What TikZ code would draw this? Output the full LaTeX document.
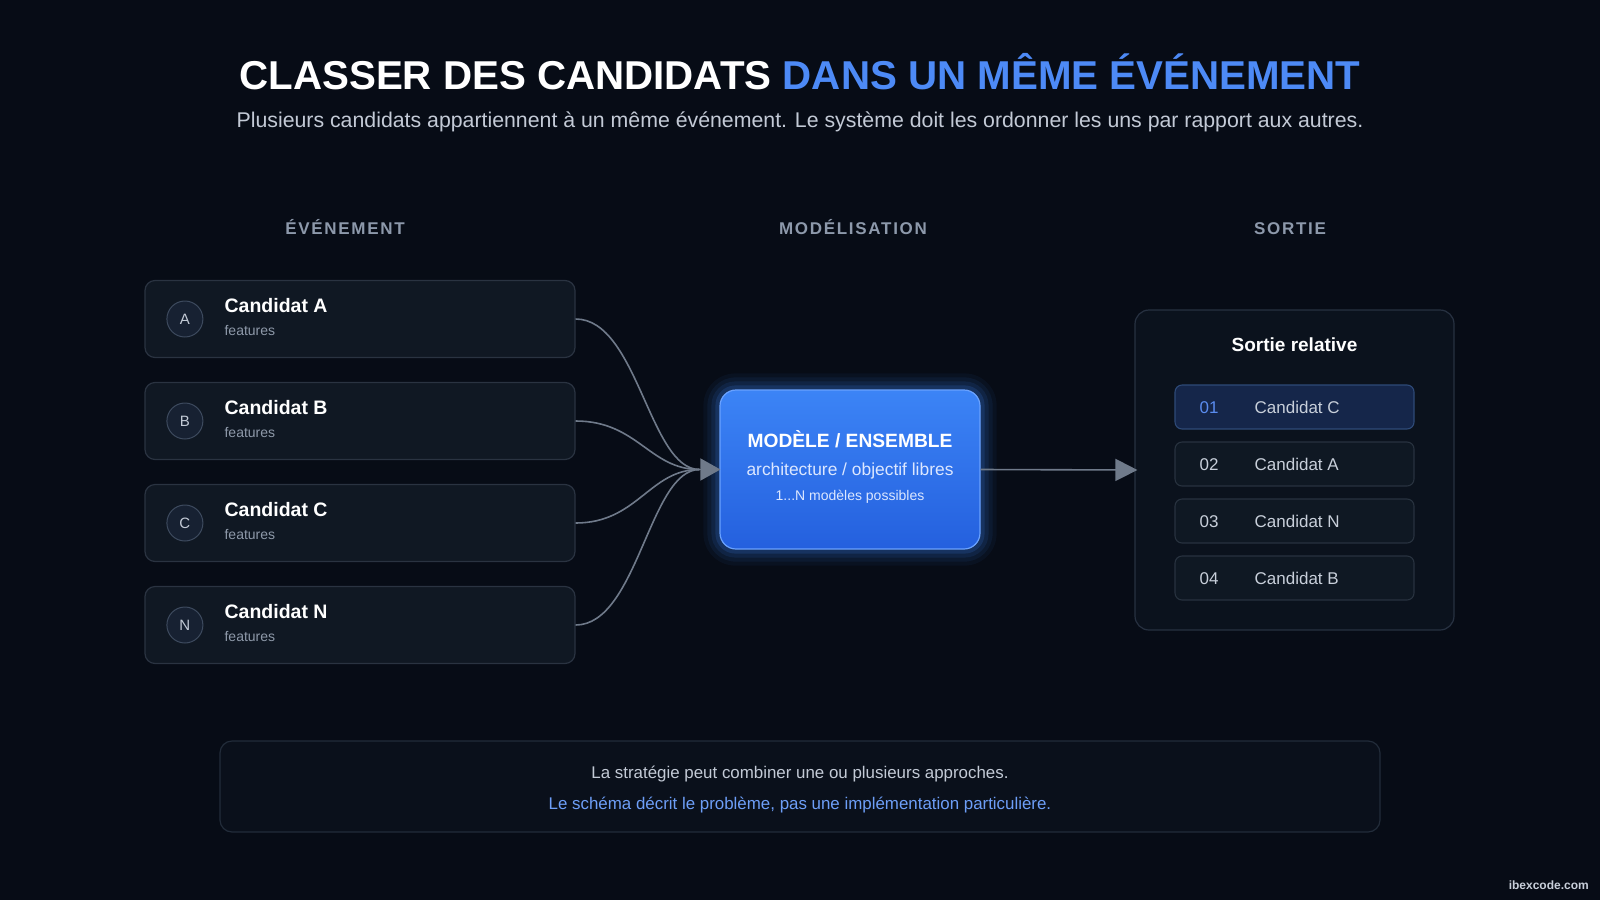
\documentclass[tikz,border=0pt]{standalone}
\usepackage{fontspec}
\setmainfont{Liberation Sans}
\setsansfont{Liberation Sans}
\usetikzlibrary{positioning,arrows.meta}

\definecolor{bgcol}{HTML}{070C16}
\definecolor{titleblue}{HTML}{4D8AF6}
\definecolor{subgray}{HTML}{C3CAD6}
\definecolor{headgray}{HTML}{8D99AB}
\definecolor{cardfill}{HTML}{101823}
\definecolor{cardline}{HTML}{2A3341}
\definecolor{dotfill}{HTML}{172132}
\definecolor{dotline}{HTML}{3D4A5E}
\definecolor{featgray}{HTML}{8E99A9}
\definecolor{wirecol}{HTML}{6F7A8A}
\definecolor{modtop}{HTML}{3C84F6}
\definecolor{modbot}{HTML}{2460DE}
\definecolor{modline}{HTML}{6AA2FF}
\definecolor{modtext}{HTML}{DCE7FF}
\definecolor{outfill}{HTML}{0B121D}
\definecolor{outline}{HTML}{273141}
\definecolor{rowfill}{HTML}{0F1823}
\definecolor{rowline}{HTML}{28323F}
\definecolor{hifill}{HTML}{15264A}
\definecolor{hiline}{HTML}{2E4A78}
\definecolor{hinum}{HTML}{5A8CF0}
\definecolor{rowtext}{HTML}{C8CFDA}
\definecolor{notefill}{HTML}{0A101B}
\definecolor{noteline}{HTML}{222C3A}
\definecolor{noteblue}{HTML}{6D9EF7}

\pgfdeclarelayer{bg}
\pgfdeclarelayer{glow}
\pgfsetlayers{bg,glow,main}

\newcommand{\fsz}[1]{\fontsize{#1}{#1}\selectfont}

\tikzset{
  card/.style     = {draw=cardline, fill=cardfill, line width=1.2pt, rounded corners=10pt,
                     minimum width=430pt, minimum height=77pt},
  dot/.style      = {circle, draw=dotline, fill=dotfill, line width=1pt, minimum size=36pt,
                     inner sep=0pt, text=subgray, font=\fsz{15}},
  candname/.style = {anchor=base west, inner sep=0pt, text=white, font=\fsz{19.5}\bfseries},
  feat/.style     = {anchor=base west, inner sep=0pt, text=featgray, font=\fsz{14}},
  colhead/.style  = {anchor=base, inner sep=0pt, text=headgray,
                     font=\fsz{17}\bfseries\addfontfeature{LetterSpace=10}},
  model/.style    = {rounded corners=16pt, draw=modline, line width=1.2pt,
                     top color=modtop, bottom color=modbot,
                     minimum width=260pt, minimum height=159pt},
  wire/.style     = {draw=wirecol, line width=1.6pt},
  outbox/.style   = {draw=outline, fill=outfill, line width=1.2pt, rounded corners=14pt,
                     minimum width=319pt, minimum height=320pt},
  rank/.style     = {draw=rowline, fill=rowfill, line width=1.1pt, rounded corners=7pt,
                     minimum width=239pt, minimum height=44pt},
  toprank/.style  = {rank, draw=hiline, fill=hifill},
  rowtxt/.style   = {anchor=base west, inner sep=0pt, text=rowtext, font=\fsz{17}},
  note/.style     = {draw=noteline, fill=notefill, line width=1.2pt, rounded corners=12pt,
                     minimum width=1160pt, minimum height=91pt},
}

\begin{document}
\begin{tikzpicture}[x=1pt, y=-1pt]
  % Background
  \begin{pgfonlayer}{bg}
    \fill[bgcol] (0,0) rectangle (1600,900);
  \end{pgfonlayer}
  \useasboundingbox (0,0) rectangle (1600,900);

  % Title
  \node[anchor=base, inner sep=0pt, font=\fsz{40.3}\bfseries] (title) at (800,89.5)
    {\textcolor{white}{CLASSER DES CANDIDATS} \textcolor{titleblue}{DANS UN MÊME ÉVÉNEMENT}};
  \node[anchor=base, inner sep=0pt, text=subgray, font=\fsz{21.3}] (subtitle) at (800,127.5)
    {Plusieurs candidats appartiennent à un même événement. Le système doit les ordonner les uns par rapport aux autres.};

  % Column headers
  \node[colhead] (hevent) at (345,234.5)  {ÉVÉNEMENT};
  \node[colhead] (hmodel) at (853,234.5)  {MODÉLISATION};
  \node[colhead] (hout)   at (1290,234.5) {SORTIE};

  % Candidates
  \foreach \k/\l [count=\i] in {a/A,b/B,c/C,n/N} {
    \node[card] (cand\k) at (360,{319+102*(\i-1)}) {};
    \node[dot, right=22pt of cand\k.west]   (dot\k)  {\l};
    \node[candname] (name\k) at ([xshift=80pt,yshift=7pt]cand\k.west)   {Candidat \l};
    \node[feat]     (feat\k) at ([xshift=80pt,yshift=-16.5pt]cand\k.west) {features};
  }

  % Model
  \node[model] (model) at (850,469.5) {};
  \begin{pgfonlayer}{glow}
    \foreach \g/\o in {16/0.05,12/0.07,8/0.10,4/0.16} {
      \fill[modtop, opacity=\o, rounded corners={16pt+\g pt}]
        ([xshift=-\g pt,yshift=\g pt]model.north west) rectangle ([xshift=\g pt,yshift=-\g pt]model.south east);
    }
  \end{pgfonlayer}
  \node[anchor=base, inner sep=0pt, text=white, font=\fsz{19.2}\bfseries] (mtitle) at (850,447) {MODÈLE / ENSEMBLE};
  \node[anchor=base, inner sep=0pt, text=modtext, font=\fsz{17.4}] (march) at (850,475.5) {architecture / objectif libres};
  \node[anchor=base, inner sep=0pt, text=modtext, font=\fsz{14}] (mnum) at (850,500) {1...N modèles possibles};

  % Output
  \node[outbox] (out) at (1294.5,470) {};
  \node[anchor=base, inner sep=0pt, text=white, font=\fsz{19}\bfseries] (outtitle) at (1294.5,351) {Sortie relative};
  \foreach \n/\c [count=\i] in {01/C,02/A,03/N,04/B} {
    \ifnum\i=1
      \node[toprank] (row\i) at (1294.5,{407+57*(\i-1)}) {};
      \node[rowtxt, text=hinum] (num\i) at ([xshift=25pt,yshift=-6.5pt]row\i.west) {\n};
    \else
      \node[rank] (row\i) at (1294.5,{407+57*(\i-1)}) {};
      \node[rowtxt] (num\i) at ([xshift=25pt,yshift=-6.5pt]row\i.west) {\n};
    \fi
    \node[rowtxt] (item\i) at ([xshift=80pt,yshift=-6.5pt]row\i.west) {Candidat \c};
  }

  % Connect the nodes
  \coordinate (join) at ([xshift=-20pt]model.west);
  \foreach \k in {a,b,c,n} {
    \draw[wire] (cand\k.east) .. controls +(62,0) and +(-50,0) .. (join);
  }
  \draw[wire, -{Triangle[length=20pt,width=22pt]}] (join) -- ([xshift=1pt]model.west);
  \draw[wire, -{Triangle[length=22pt,width=22pt]}] (model.east) -- ([xshift=3pt]out.west);

  % Note
  \node[note] (notebox) at (800,786.5) {};
  \node[anchor=base, inner sep=0pt, text=subgray, font=\fsz{16.9}] (note1) at (800,778.5)
    {La stratégie peut combiner une ou plusieurs approches.};
  \node[anchor=base, inner sep=0pt, text=noteblue, font=\fsz{16.9}] (note2) at (800,809)
    {Le schéma décrit le problème, pas une implémentation particulière.};

  % Watermark
  \node[anchor=base east, inner sep=0pt, text=rowtext, font=\fsz{12}\bfseries] (mark) at (1589,889) {ibexcode.com};
\end{tikzpicture}
\end{document}
